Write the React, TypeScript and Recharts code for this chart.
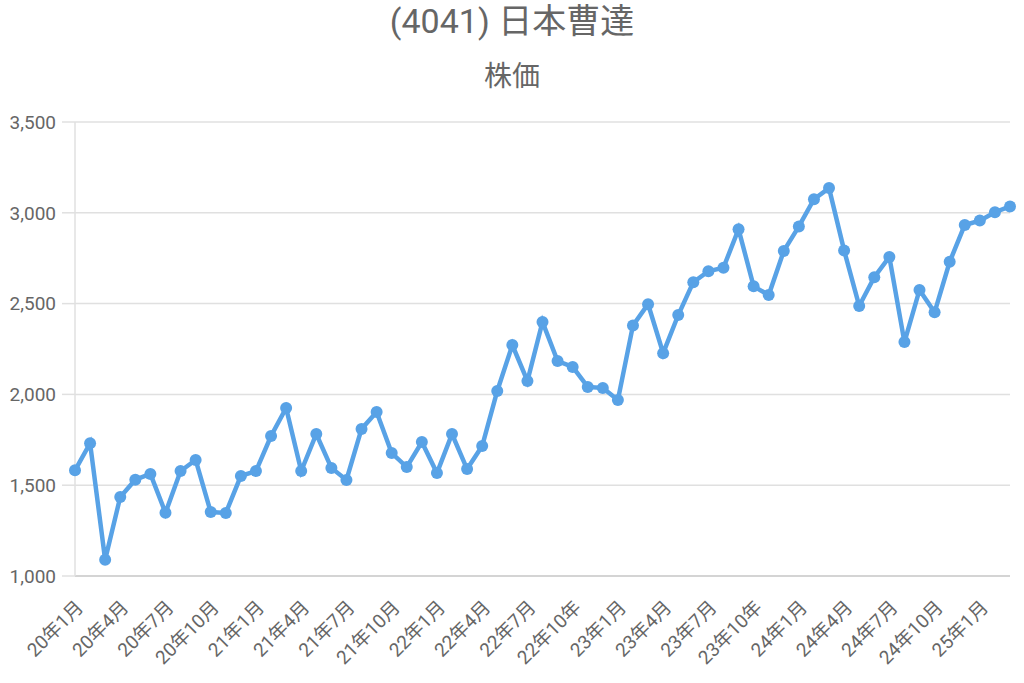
import React from 'react';
import { LineChart, Line, XAxis, YAxis, CartesianGrid } from 'recharts';

const months = [
  '20年1月', '20年2月', '20年3月', '20年4月', '20年5月', '20年6月',
  '20年7月', '20年8月', '20年9月', '20年10月', '20年11月', '20年12月',
  '21年1月', '21年2月', '21年3月', '21年4月', '21年5月', '21年6月',
  '21年7月', '21年8月', '21年9月', '21年10月', '21年11月', '21年12月',
  '22年1月', '22年2月', '22年3月', '22年4月', '22年5月', '22年6月',
  '22年7月', '22年8月', '22年9月', '22年10年', '22年11月', '22年12月',
  '23年1月', '23年2月', '23年3月', '23年4月', '23年5月', '23年6月',
  '23年7月', '23年8月', '23年9月', '23年10年', '23年11月', '23年12月',
  '24年1月', '24年2月', '24年3月', '24年4月', '24年5月', '24年6月',
  '24年7月', '24年8月', '24年9月', '24年10月', '24年11月', '24年12月',
  '25年1月', '25年2月', '25年3月',
];

const prices = [
  1582, 1731, 1089, 1435, 1530, 1562, 1348, 1578, 1639, 1352, 1347, 1551,
  1578, 1771, 1925, 1578, 1782, 1595, 1529, 1810, 1903, 1677, 1600, 1738,
  1567, 1782, 1589, 1716, 2019, 2272, 2074, 2399, 2184, 2151, 2041, 2035,
  1969, 2380, 2497, 2227, 2437, 2618, 2678, 2698, 2910, 2595, 2547, 2790,
  2925, 3075, 3136, 2793, 2487, 2645, 2757, 2288, 2575, 2452, 2730, 2933,
  2957, 3003, 3035,
];

const yTicks = [1000, 1500, 2000, 2500, 3000, 3500];

const data = months.map((m, i) => ({ month: m, price: prices[i] }));

const FONT = 'Roboto, "Noto Sans CJK JP", sans-serif';
const LINE = '#58a2e6';

export default function App() {
  return (
    <div style={{ position: 'absolute', left: 0, top: 0, width: 1024, height: 683, background: '#fff', fontFamily: FONT }}>
      <div style={{ position: 'absolute', top: 0, left: 0, width: 1024, textAlign: 'center', fontSize: 34, color: '#666', lineHeight: '42px' }}>
        (4041) 日本曹達
      </div>
      <div style={{ position: 'absolute', top: 58, left: 0, width: 1024, textAlign: 'center', fontSize: 28, color: '#666', lineHeight: '38px' }}>
        株価
      </div>
      <LineChart width={1024} height={683} data={data} margin={{ top: 122, right: 14, bottom: 0, left: 0 }}>
        <CartesianGrid vertical={false} stroke="#e0e0e0" strokeWidth={1.5} />
        <XAxis
          dataKey="month"
          interval={2}
          angle={-45}
          textAnchor="end"
          height={107}
          tickLine={false}
          tickMargin={17}
          stroke="#d4d4d4"
          strokeWidth={2}
          tick={{ fill: '#666', fontSize: 19, fontFamily: FONT }}
        />
        <YAxis
          domain={[1000, 3500]}
          ticks={yTicks}
          width={75}
          tickSize={13}
          tickMargin={6}
          stroke="#e0e0e0"
          strokeWidth={1.5}
          tick={{ fill: '#666', fontSize: 19, fontFamily: FONT }}
          tickFormatter={(v: number) => v.toLocaleString('en-US')}
        />
        <Line
          type="linear"
          dataKey="price"
          stroke={LINE}
          strokeWidth={4.5}
          dot={{ r: 6, fill: LINE, stroke: LINE, strokeWidth: 0 }}
          isAnimationActive={false}
        />
      </LineChart>
    </div>
  );
}
